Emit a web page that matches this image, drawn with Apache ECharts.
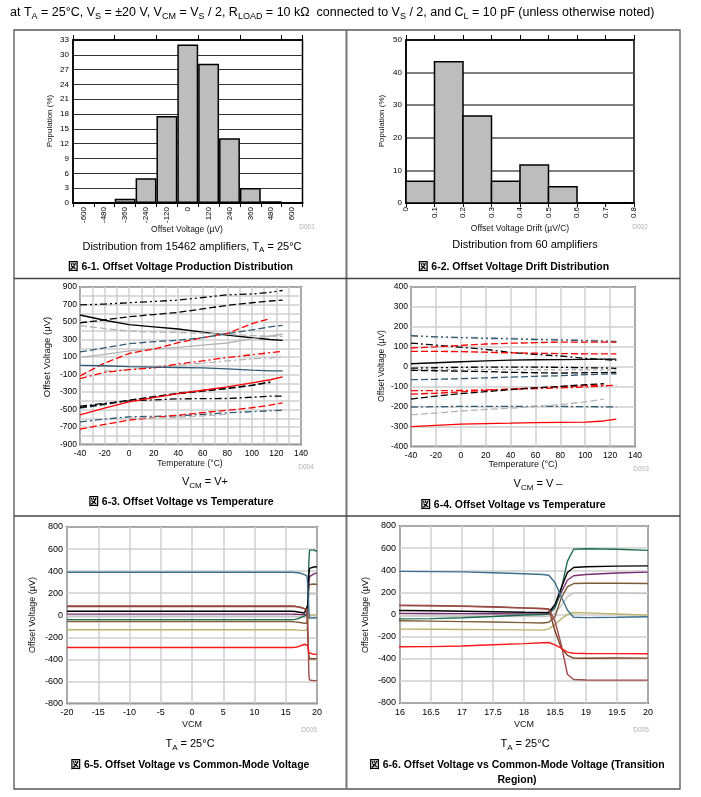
<!DOCTYPE html>
<html><head><meta charset="utf-8">
<script src="https://cdn.jsdelivr.net/npm/echarts/dist/echarts.min.js"></script>
<style>html,body{margin:0;padding:0;background:#fff}#c{width:701px;height:797px}</style>
</head><body><div id="c"></div>
<script>
// ---------------- DATA ----------------
// Fig 6-1 histogram
const p1Categories = ['-600','-480','-360','-240','-120','0','120','240','360','480','600'];
const p1Population = [0, 0.05, 0.85, 5.0, 17.6, 32.1, 28.2, 13.1, 3.05, 0.35, 0];
// Fig 6-2 histogram
const p2BinEdges = [0, 0.1, 0.2, 0.3, 0.4, 0.5, 0.6];
const p2Population = [6.67, 43.33, 26.67, 6.67, 11.67, 5.0];
// Fig 6-3 offset vs temperature (VCM = V+)
const p3Temps = [-40, -20, 0, 20, 40, 60, 80, 100, 115, 125];
const p3BlackDDD   = [695, 705, 720, 735, 750, 780, 810, 820, 840, 860];
const p3BlackLong  = [490, 525, 560, 585, 610, 650, 690, 720, 740, 750];
const p3BlackSolid = [580, 520, 470, 445, 420, 385, 350, 320, 300, 290];
const p3GraySolid  = [95, 130, 170, 190, 210, 235, 260, 310, 340, 360];
const p3GrayLongHi = [460, 425, 395, 385, 380, 372, 360, 345, 338, 335];
const p3RedLongHi  = [-116, 30, 140, 190, 264, 320, 370, 481, 540, null];
const p3SlateLong  = [158, 205, 253, 275, 291, 321, 367, 410, 445, 462];
const p3GrayDashMid= [null, -60, -45, -20, 5, 30, 55, 80, 90, 100];
const p3RedDashDot = [-146, -75, -44, -25, 20, 55, 95, 125, 150, 165];
const p3SlateSolid = [5, 0, -10, -15, -20, -25, -36, -50, -58, -59];
const p3BlackDashDotLo = [-462, -430, -401, -390, -378, -376, -374, -360, -348, -348];
const p3BlackLongLo = [-477, -435, -394, -355, -318, -290, -261, -225, -185, null];
const p3SlateLongLo = [-485, -445, -398, -352, -312, -282, -255, -222, -192, null];
const p3RedSolid   = [-561, -485, -413, -365, -318, -280, -242, -195, -160, -128];
const p3SlateDashDotLo = [-641, -610, -584, -578, -573, -555, -538, -525, -515, -508];
const p3RedLongLo  = [-725, -670, -622, -590, -565, -535, -508, -480, -450, -424];
const p3GrayLongLo = [null, null, -600, -595, -588, -572, -556, null, null, null];
// Fig 6-4 offset vs temperature (VCM = V-)
const p4Temps = [-40, -20, 0, 20, 40, 60, 80, 100, 115, 125];
const p4SlateDDD   = [156, 150, 146, 142, 140, 136, 134, 131, 128, 125];
const p4GrayDDD    = [152, 150, 148, 146, 143, 140, 137, 134, 131, 128];
const p4BlackDashDot = [119, 108, 98, 87, 72, 62, 54, 42, 36, 32];
const p4RedLongA   = [94, 100, 107, 114, 118, 121, 124, 124, 124, 124];
const p4RedLongB   = [77, 77, 76, 73, 70, 68, 66, 65, 65, 65];
const p4BlackSolid = [15, 20, 25, 29, 33, 35, 36, 37, 38, 38];
const p4BlackDDD   = [-7, -5, -3, -2, -2, -2, -3, -5, -6, -8];
const p4GrayDash   = [-15, -15, -14, -13, -14, -15, -15, -15, -16, -16];
const p4BlackLong  = [-18, -20, -22, -24, -28, -30, -32, -30, -29, -28];
const p4SlateLong  = [-65, -63, -60, -56, -52, -48, -45, -40, -37, -35];
const p4RedDashDot = [-120, -120, -119, -116, -113, -110, -106, -102, -96, -92];
const p4RedLongC   = [-137, -133, -126, -118, -112, -106, -100, -95, -92, null];
const p4BlackLongB = [-162, -147, -135, -125, -115, -106, -99, -90, -85, null];
const p4SlateDashDot = [-202, -200, -199, -199, -199, -199, -199, -200, -201, -202];
const p4GrayLong   = [-241, -232, -222, -214, -208, -200, -190, -176, -162, null];
const p4RedSolid   = [-300, -294, -288, -285, -283, -280, -279, -278, -272, -263];
// Fig 6-5 / 6-6 offset vs common-mode voltage
const vcm = [-20, -15, -10, -5, 0, 5, 10, 15, 16, 16.5, 17, 17.5, 18, 18.3, 18.4, 18.5, 18.6, 18.7, 18.8, 19, 19.5, 20];
const cmBlue   = [390, 390, 390, 390, 390, 390, 390, 390, 390, 388, 385, 378, 368, 362, 355, 290, 160, 40, -25, -28, -25, -21];
const cmGreen  = [-40, -40, -40, -40, -40, -40, -40, -40, -40, -37, -30, -18, -5, 0, 3, 60, 230, 480, 590, 595, 590, 580];
const cmBlack  = [36, 36, 36, 36, 36, 36, 36, 36, 36, 34, 30, 25, 20, 18, 20, 90, 240, 380, 425, 432, 437, 440];
const cmPurple = [10, 10, 10, 10, 10, 10, 10, 10, 10, 9, 8, 7, 6, 6, 10, 70, 200, 310, 350, 362, 375, 383];
const cmBrown  = [-57, -57, -57, -57, -57, -57, -57, -57, -57, -60, -64, -68, -73, -77, -70, -20, 150, 250, 280, 283, 283, 280];
const cmGray   = [-15, -15, -15, -15, -15, -15, -15, -15, -15, -15, -16, -17, -18, -18, -15, 10, 80, 160, 195, 198, 195, 190];
const cmKhaki  = [-132, -132, -132, -132, -132, -132, -132, -132, -132, -133, -135, -137, -139, -141, -130, -90, -40, 0, 18, 15, 5, -6];
const cmMaroon = [84, 84, 84, 84, 84, 84, 84, 84, 84, 82, 75, 68, 58, 52, 48, -60, -270, -540, -587, -592, -593, -593];
const cmSienna = [80, 80, 80, 80, 80, 80, 80, 80, 80, 79, 76, 70, 60, 54, 50, -150, -300, -370, -394, -395, -393, -394];
const cmRed    = [-292, -292, -292, -292, -292, -292, -292, -292, -292, -290, -285, -274, -263, -255, -253, -275, -305, -340, -350, -352, -354, -355];

// ---------------- STYLES ----------------
const FONT = "'Liberation Sans', Arial, 'Noto Sans CJK JP', sans-serif";
const BLACK = '#000000', GRAY = '#b4b4b4', SLATE = '#2f5a73', RED = '#ff0000';
const SOLID = 'solid', LONG = [7, 3], DASH = [4, 3], DASHDOT = [7, 3, 2, 3], DDD = [7, 3, 2, 3, 2, 3];

const p3Lines = [
  [p3BlackDDD, BLACK, DDD], [p3BlackLong, BLACK, LONG], [p3BlackSolid, BLACK, SOLID],
  [p3GraySolid, GRAY, SOLID], [p3GrayLongHi, GRAY, LONG], [p3RedLongHi, RED, LONG],
  [p3SlateLong, SLATE, LONG], [p3GrayDashMid, GRAY, DASHDOT], [p3RedDashDot, RED, DASHDOT],
  [p3SlateSolid, SLATE, SOLID], [p3BlackDashDotLo, BLACK, DASHDOT], [p3SlateLongLo, SLATE, LONG],
  [p3BlackLongLo, BLACK, LONG], [p3RedSolid, RED, SOLID], [p3SlateDashDotLo, SLATE, DASHDOT],
  [p3RedLongLo, RED, LONG], [p3GrayLongLo, GRAY, LONG]
];
const p4Lines = [
  [p4GrayDDD, GRAY, DDD], [p4SlateDDD, SLATE, DDD], [p4BlackDashDot, BLACK, DASHDOT],
  [p4RedLongA, RED, LONG], [p4RedLongB, RED, LONG], [p4BlackSolid, BLACK, SOLID],
  [p4BlackDDD, BLACK, DDD], [p4GrayDash, GRAY, DASH], [p4BlackLong, BLACK, LONG],
  [p4SlateLong, SLATE, LONG], [p4RedDashDot, RED, DASHDOT], [p4RedLongC, RED, LONG],
  [p4BlackLongB, BLACK, LONG], [p4SlateDashDot, SLATE, DASHDOT], [p4GrayLong, GRAY, LONG],
  [p4RedSolid, RED, SOLID]
];
const cmLines = [
  [cmGray, '#c4c4c4'], [cmKhaki, '#bcb36b'], [cmBrown, '#7d5a36'], [cmPurple, '#7b2d73'],
  [cmGreen, '#1f6e4e'], [cmBlack, '#000000'], [cmSienna, '#7a4220'], [cmMaroon, '#9e4a48'],
  [cmBlue, '#3d6f8e'], [cmRed, '#ff1a1a']
];

// ---------------- HELPERS ----------------
const lbl = (extra) => Object.assign({fontFamily: FONT, fontSize: 8, color: '#000', margin: 4,
  hideOverlap: false, showMinLabel: true, showMaxLabel: true}, extra || {});
const gridBox = (l, t, w, h) => ({left: l, top: t, width: w, height: h, show: true,
  borderColor: '#000', borderWidth: 1.5, backgroundColor: 'transparent', containLabel: false, outerBoundsMode: 'none'});
const lightSplit = {show: true, lineStyle: {color: '#cfcfcf', width: 1.5}};

function toPairs(xs, ys) { return xs.map((x, i) => [x, ys[i] == null ? '-' : ys[i]]); }

const series = [];
series.push({type: 'bar', xAxisIndex: 0, yAxisIndex: 0, data: p1Population, barCategoryGap: '0%',
  itemStyle: {color: '#bdbdbd', borderColor: '#000', borderWidth: 1.5}, silent: true});
series.push({type: 'custom', xAxisIndex: 2, yAxisIndex: 1,
  data: p2Population.map((v, i) => [p2BinEdges[i], p2BinEdges[i + 1], v]),
  encode: {x: [0, 1], y: 2},
  renderItem: function (params, api) {
    const a = api.coord([api.value(0), api.value(2)]);
    const b = api.coord([api.value(1), 0]);
    return {type: 'rect', shape: {x: a[0], y: a[1], width: b[0] - a[0], height: b[1] - a[1]},
      style: {fill: '#bdbdbd', stroke: '#000', lineWidth: 1.5}};
  }, silent: true});
p3Lines.forEach(([v, c, d]) => series.push({type: 'line', xAxisIndex: 4, yAxisIndex: 2, data: toPairs(p3Temps, v),
  symbol: 'none', lineStyle: {color: c, width: 1.3, type: d}, silent: true}));
p4Lines.forEach(([v, c, d]) => series.push({type: 'line', xAxisIndex: 5, yAxisIndex: 3, data: toPairs(p4Temps, v),
  symbol: 'none', lineStyle: {color: c, width: 1.3, type: d}, silent: true}));
[6, 7].forEach((xi) => cmLines.forEach(([v, c]) => series.push({type: 'line', xAxisIndex: xi, yAxisIndex: xi - 2,
  data: toPairs(vcm, v), symbol: 'none', lineStyle: {color: c, width: 1.4}, silent: true})));

// ---------------- TEXT ----------------
const rich = {sub: {fontFamily: FONT, fontSize: 8, lineHeight: 7, verticalAlign: 'bottom'},
              subH: {fontFamily: FONT, fontSize: 9, lineHeight: 8, verticalAlign: 'bottom'}};
function txt(x, y, s, o) {
  return Object.assign({type: 'text', x: x, y: y, silent: true,
    style: Object.assign({text: s, fontFamily: FONT, fontSize: 8, fill: '#111', align: 'center', verticalAlign: 'middle'}, o || {})});
}
function vtxt(x, y, s, o) { const t = txt(x, y, s, o); t.rotation = Math.PI / 2; return t; }
const big = {fontSize: 11, lineHeight: 15, fill: '#000', rich: rich};
const head = {fontSize: 12.5, lineHeight: 17, fill: '#000', rich: rich, align: 'left'};
const cap = {fontSize: 10.5, fontWeight: 'bold', fill: '#000'};
const dtag = {fontSize: 6.5, fill: '#b0b0b0'};
const n85 = {fontSize: 8.5};
const n9 = {fontSize: 9};

const graphic = [
  {type: 'rect', shape: {x: 14, y: 30, width: 666, height: 759}, style: {fill: 'none', stroke: '#555', lineWidth: 1.3}, silent: true},
  {type: 'line', shape: {x1: 346.5, y1: 30, x2: 346.5, y2: 789}, style: {stroke: '#777', lineWidth: 2}, silent: true},
  {type: 'line', shape: {x1: 14, y1: 278.5, x2: 680, y2: 278.5}, style: {stroke: '#444', lineWidth: 1.5}, silent: true},
  {type: 'line', shape: {x1: 14, y1: 516, x2: 680, y2: 516}, style: {stroke: '#444', lineWidth: 1.5}, silent: true},
  txt(10, 13, 'at T{subH|A} = 25°C, V{subH|S} = ±20 V, V{subH|CM} = V{subH|S} / 2, R{subH|LOAD} = 10 kΩ  connected to V{subH|S} / 2, and C{subH|L} = 10 pF (unless otherwise noted)', head),
  vtxt(50, 121, 'Population (%)'),
  txt(187, 229.5, 'Offset Voltage (µV)', n85),
  txt(307, 227, 'D001', dtag),
  txt(192, 246.5, 'Distribution from 15462 amplifiers, T{sub|A} = 25°C', big),
  txt(180.5, 267.5, '図 6-1. Offset Voltage Production Distribution', cap),
  vtxt(382, 121, 'Population (%)'),
  txt(520, 229, 'Offset Voltage Drift (µV/C)', n85),
  txt(640, 227, 'D002', dtag),
  txt(525, 245, 'Distribution from 60 amplifiers', big),
  txt(513.5, 267, '図 6-2. Offset Voltage Drift Distribution', cap),
  vtxt(47, 357, 'Offset Voltage (µV)', {fontSize: 9.5}),
  txt(190, 463.5, 'Temperature (°C)', n85),
  txt(306, 467, 'D004', dtag),
  txt(205, 482, 'V{sub|CM} = V+', big),
  txt(181, 502, '図 6-3. Offset Voltage vs Temperature', cap),
  vtxt(382, 366, 'Offset Voltage (µV)', n85),
  txt(523, 464.5, 'Temperature (°C)', n9),
  txt(641, 469, 'D003', dtag),
  txt(538, 484, 'V{sub|CM} = V –', big),
  txt(513, 505, '図 6-4. Offset Voltage vs Temperature', cap),
  vtxt(33, 615, 'Offset Voltage (µV)', n9),
  txt(192, 725, 'VCM', n9),
  txt(309, 730, 'D005', dtag),
  txt(190, 744, 'T{sub|A} = 25°C', big),
  txt(190, 765, '図 6-5. Offset Voltage vs Common-Mode Voltage', cap),
  vtxt(366, 615, 'Offset Voltage (µV)', n9),
  txt(524, 725, 'VCM', n9),
  txt(641, 730, 'D005', dtag),
  txt(525, 744, 'T{sub|A} = 25°C', big),
  txt(517, 765, '図 6-6. Offset Voltage vs Common-Mode Voltage (Transition', cap),
  txt(517, 780, 'Region)', cap)
];

// ---------------- OPTION ----------------
const option = {
  animation: false,
  backgroundColor: '#fff',
  grid: [
    gridBox(73, 40, 229.5, 163),
    gridBox(406, 40, 228, 163),
    gridBox(80, 287, 221, 157.5),
    gridBox(411, 287, 224, 159.5),
    gridBox(67, 527, 250, 176.5),
    gridBox(400, 526, 248, 177)
  ],
  xAxis: [
    {type: 'category', gridIndex: 0, data: p1Categories, boundaryGap: true,
      axisLine: {show: true, lineStyle: {color: '#000', width: 2}},
      axisTick: {show: true, inside: false, length: 4, lineStyle: {color: '#000'}},
      axisLabel: lbl({rotate: 90, interval: 0}), splitLine: {show: false}},
    {type: 'category', gridIndex: 0, position: 'top', data: p1Categories, boundaryGap: true,
      axisLine: {show: true, lineStyle: {color: '#000', width: 1.5}},
      axisTick: {show: true, inside: false, length: 5, lineStyle: {color: '#000'}},
      axisLabel: {show: false}, splitLine: {show: false}},
    {type: 'value', gridIndex: 1, min: 0, max: 0.8, interval: 0.1,
      axisLine: {show: true, lineStyle: {color: '#000', width: 2}},
      axisTick: {show: true, inside: false, length: 4, lineStyle: {color: '#000'}},
      axisLabel: lbl({rotate: 90}), splitLine: {show: false}},
    {type: 'value', gridIndex: 1, position: 'top', min: 0, max: 0.8, interval: 0.1,
      axisLine: {show: true, lineStyle: {color: '#000', width: 1.5}},
      axisTick: {show: true, inside: false, length: 5, lineStyle: {color: '#000'}},
      axisLabel: {show: false}, splitLine: {show: false}},
    {type: 'value', gridIndex: 2, min: -40, max: 140, interval: 20,
      axisLine: {show: false}, axisTick: {show: false}, axisLabel: lbl({margin: 5, fontSize: 8.5}),
      splitLine: lightSplit, minorTick: {show: false, splitNumber: 2}, minorSplitLine: {show: true, lineStyle: {color: '#cfcfcf', width: 1.5}}},
    {type: 'value', gridIndex: 3, min: -40, max: 140, interval: 20,
      axisLine: {show: false}, axisTick: {show: false}, axisLabel: lbl({margin: 5, fontSize: 8.5}), splitLine: lightSplit},
    {type: 'value', gridIndex: 4, min: -20, max: 20, interval: 5,
      axisLine: {show: false}, axisTick: {show: false}, axisLabel: lbl({margin: 5, fontSize: 9}), splitLine: lightSplit},
    {type: 'value', gridIndex: 5, min: 16, max: 20, interval: 0.5,
      axisLine: {show: false}, axisTick: {show: false}, axisLabel: lbl({margin: 5, fontSize: 9}), splitLine: lightSplit}
  ],
  yAxis: [
    {type: 'value', gridIndex: 0, min: 0, max: 33, interval: 3,
      axisLine: {show: true, lineStyle: {color: '#000', width: 1.5}}, axisTick: {show: false},
      axisLabel: lbl(), splitLine: {show: true, lineStyle: {color: '#333', width: 1.2}}},
    {type: 'value', gridIndex: 1, min: 0, max: 50, interval: 10,
      axisLine: {show: true, lineStyle: {color: '#000', width: 1.5}}, axisTick: {show: false},
      axisLabel: lbl(), splitLine: {show: true, lineStyle: {color: '#555', width: 1.6}}},
    {type: 'value', gridIndex: 2, min: -900, max: 900, interval: 200,
      axisLine: {show: false}, axisTick: {show: false}, axisLabel: lbl({margin: 3, fontSize: 8.5}),
      splitLine: lightSplit, minorTick: {show: false, splitNumber: 2}, minorSplitLine: {show: true, lineStyle: {color: '#cfcfcf', width: 1.5}}},
    {type: 'value', gridIndex: 3, min: -400, max: 400, interval: 100,
      axisLine: {show: false}, axisTick: {show: false}, axisLabel: lbl({margin: 3, fontSize: 8.5}), splitLine: lightSplit},
    {type: 'value', gridIndex: 4, min: -800, max: 800, interval: 200,
      axisLine: {show: false}, axisTick: {show: false}, axisLabel: lbl({margin: 4, fontSize: 9}), splitLine: lightSplit},
    {type: 'value', gridIndex: 5, min: -800, max: 800, interval: 200,
      axisLine: {show: false}, axisTick: {show: false}, axisLabel: lbl({margin: 4, fontSize: 9}), splitLine: lightSplit}
  ],
  series: series,
  graphic: graphic
};
const chart = echarts.init(document.getElementById('c'), null, {renderer: 'canvas', width: 701, height: 797});
chart.setOption(option);
</script>
</body></html>
